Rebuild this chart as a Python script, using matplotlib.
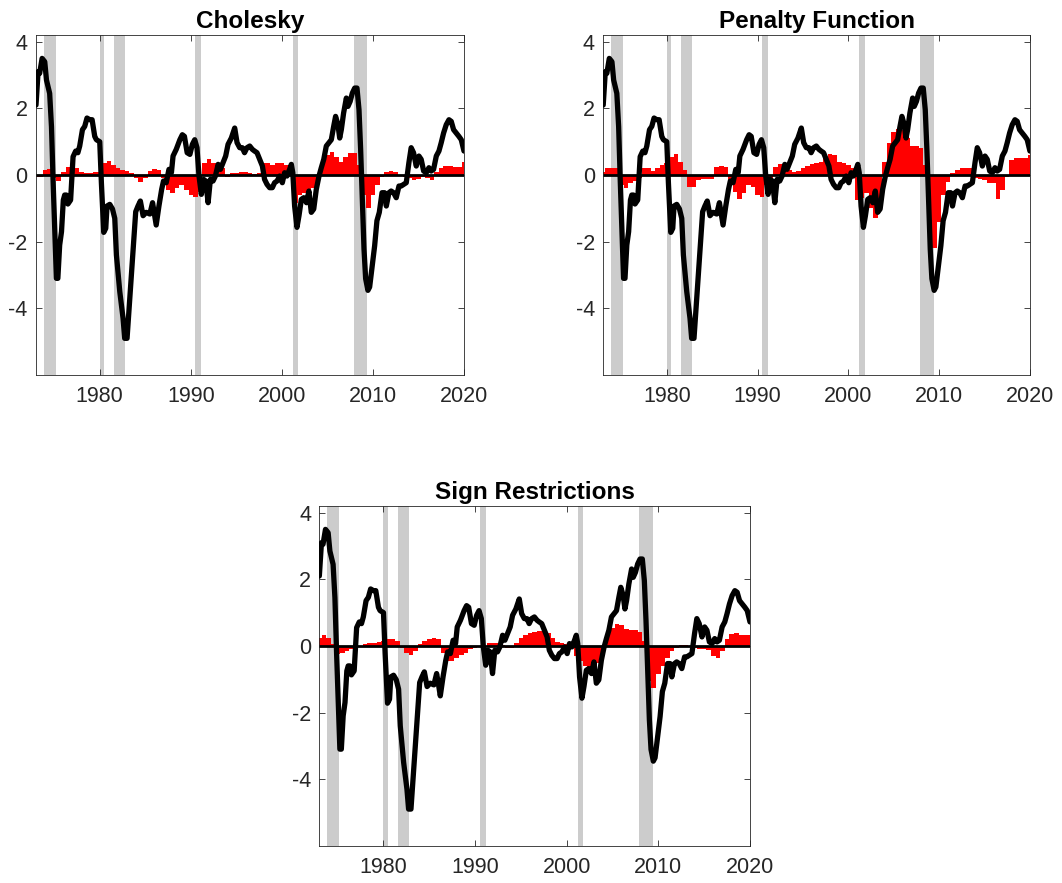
import numpy as np
import matplotlib
matplotlib.use("Agg")
import matplotlib.pyplot as plt

plt.rcParams['font.family'] = ['Liberation Sans', 'DejaVu Sans']
plt.rcParams['axes.unicode_minus'] = False

# common black series
line_years = [1973.0, 1973.23, 1973.4, 1973.67, 1973.96, 1974.15, 1974.5, 1974.7, 1974.88, 1975.06,
              1975.24, 1975.4, 1975.6, 1975.8, 1976.0, 1976.15, 1976.33, 1976.5, 1976.8, 1977.07,
              1977.36, 1977.6, 1977.8, 1978.1, 1978.35, 1978.6, 1978.9, 1979.16, 1979.45, 1979.63,
              1980.0, 1980.18, 1980.44, 1980.66, 1980.8, 1981.1, 1981.4, 1981.65, 1981.83, 1982.2,
              1982.56, 1982.74, 1983.0, 1983.3, 1983.66, 1983.95, 1984.2, 1984.46, 1984.76, 1985.1,
              1985.5, 1985.8, 1986.04, 1986.2, 1986.5, 1986.8, 1987.0, 1987.3, 1987.6, 1987.87,
              1988.05, 1988.4, 1988.8, 1989.07, 1989.3, 1989.6, 1989.9, 1990.17, 1990.43, 1990.68,
              1990.9, 1991.16, 1991.4, 1991.64, 1991.9, 1992.15, 1992.44, 1992.7, 1993.0, 1993.25,
              1993.54, 1993.83, 1994.09, 1994.45, 1994.82, 1995.08, 1995.37, 1995.66, 1995.9, 1996.17,
              1996.47, 1996.76, 1997.0, 1997.27, 1997.56, 1997.86, 1998.1, 1998.37, 1998.66, 1998.95,
              1999.2, 1999.47, 1999.76, 2000.05, 2000.3, 2000.56, 2000.85, 2001.04, 2001.2, 2001.4,
              2001.66, 2001.88, 2002.14, 2002.4, 2002.7, 2002.97, 2003.23, 2003.5, 2003.78, 2004.08,
              2004.33, 2004.6, 2004.88, 2005.17, 2005.43, 2005.69, 2005.9, 2006.16, 2006.35, 2006.53,
              2006.78, 2007.08, 2007.26, 2007.5, 2007.74, 2008.0, 2008.25, 2008.47, 2008.65, 2008.83,
              2009.02, 2009.2, 2009.45, 2009.64, 2009.93, 2010.19, 2010.44, 2010.7, 2011.0, 2011.28,
              2011.47, 2011.76, 2012.0, 2012.27, 2012.56, 2012.86, 2013.1, 2013.37, 2013.66, 2013.95,
              2014.2, 2014.46, 2014.76, 2015.05, 2015.3, 2015.57, 2015.86, 2016.15, 2016.4, 2016.66,
              2016.96, 2017.25, 2017.5, 2017.76, 2018.05, 2018.35, 2018.6, 2018.86, 2019.15, 2019.44,
              2019.7, 2020.0]
line_vals = [2.1, 3.1, 3.05, 3.5, 3.4, 2.85, 2.45, 1.45, -0.2, -1.7,
             -3.1, -3.1, -2.1, -1.7, -0.75, -0.6, -0.6, -0.87, -0.75, 0.55,
             0.72, 0.67, 0.87, 1.36, 1.46, 1.71, 1.66, 1.66, 1.16, 1.06,
             1.0, -0.23, -1.72, -1.6, -0.93, -0.88, -1.02, -1.3, -2.4, -3.5,
             -4.3, -4.9, -4.9, -3.7, -2.3, -1.1, -0.93, -0.78, -1.22, -1.12,
             -1.17, -0.83, -1.22, -1.5, -0.93, -0.43, -0.18, -0.23, 0.17, 0.07,
             0.57, 0.77, 1.06, 1.21, 1.16, 0.67, 0.62, 0.92, 1.06, 0.82,
             -0.03, -0.58, -0.13, -0.18, -0.83, -0.13, -0.18, -0.03, 0.32, 0.17,
             0.37, 0.57, 0.92, 1.11, 1.41, 0.97, 0.82, 0.82, 0.67, 0.82,
             0.87, 0.77, 0.72, 0.67, 0.47, 0.27, -0.13, -0.28, -0.38, -0.38,
             -0.23, -0.18, -0.03, -0.23, 0.07, -0.03, 0.17, 0.32, 0.07, -0.93,
             -1.57, -1.22, -0.73, -0.68, -0.83, -0.48, -1.12, -1.02, -0.43, -0.03,
             0.22, 0.47, 0.87, 0.97, 1.06, 1.46, 1.76, 1.51, 1.11, 1.36,
             1.86, 2.31, 2.06, 2.21, 2.46, 2.61, 2.61, 1.96, 0.77, -0.73,
             -2.22, -3.11, -3.46, -3.36, -2.72, -2.12, -1.37, -1.12, -0.53, -0.53,
             -0.93, -0.53, -0.48, -0.53, -0.68, -0.33, -0.33, -0.28, -0.23, 0.37,
             0.82, 0.67, 0.27, 0.57, 0.47, 0.12, 0.07, 0.22, 0.12, 0.17,
             0.57, 0.72, 0.97, 1.26, 1.51, 1.66, 1.61, 1.36, 1.26, 1.16,
             1.06, 0.72]

# contributions (red bars), half-year steps 1973.0 .. 2020.0
bar_years = np.arange(1973.0, 2020.01, 0.5)
chol = [-0.05, -0.05, 0.15, 0.17, -0.1, -0.18, 0.1, 0.25, 0.27, 0.2,
        0.08, 0.05, 0.05, 0.08, 0.1, 0.35, 0.42, 0.3, 0.2, 0.15,
        0.12, 0.05, -0.1, -0.2, -0.1, 0.12, 0.18, 0.15, -0.1, -0.45,
        -0.55, -0.4, -0.3, -0.45, -0.6, -0.65, -0.5, 0.35, 0.47, 0.35,
        0.3, 0.2, -0.05, 0.05, 0.05, 0.08, 0.08, 0.05, 0.02, 0.05,
        0.35, 0.35, 0.3, 0.35, 0.35, 0.3, 0.1, -0.85, -0.6, -0.55,
        -0.6, -0.4, -0.1, 0.4, 0.6, 0.7, 0.55, 0.4, 0.55, 0.65,
        0.65, 0.3, -0.6, -1.0, -0.6, -0.3, -0.05, 0.1, 0.12, 0.1,
        0.0, -0.05, -0.1, -0.15, -0.12, -0.05, -0.1, -0.15, 0.1, 0.22,
        0.27, 0.27, 0.25, 0.25, 0.4]
penalty = [0.1, 0.2, 0.22, 0.22, -0.3, -0.4, -0.25, -0.18, -0.1, 0.22,
           0.2, 0.12, 0.2, 0.3, 0.35, 0.55, 0.62, 0.4, 0.15, -0.35,
           -0.35, -0.15, -0.12, -0.13, -0.12, 0.25, 0.28, 0.25, -0.3, -0.5,
           -0.72, -0.55, -0.3, -0.35, -0.6, -0.65, -0.3, -0.1, 0.25, 0.32,
           0.3, 0.15, 0.1, 0.12, 0.2, 0.28, 0.32, 0.37, 0.4, 0.5,
           0.62, 0.6, 0.4, 0.35, 0.3, 0.2, -0.75, -0.7, -0.55, -1.0,
           -1.3, -0.7, 0.4, 0.95, 1.3, 1.38, 1.35, 1.1, 0.88, 0.87,
           0.8, 0.3, -1.6, -2.2, -1.4, -0.6, -0.2, 0.05, 0.15, 0.22,
           0.22, 0.2, -0.1, -0.12, -0.15, -0.23, -0.25, -0.72, -0.45, -0.05,
           0.45, 0.5, 0.52, 0.5, 0.6]
sign = [0.25, 0.33, 0.25, 0.05, -0.25, -0.22, -0.15, -0.1, -0.05, 0.0,
        0.05, 0.08, 0.1, 0.12, 0.15, 0.22, 0.22, 0.15, -0.05, -0.2,
        -0.26, -0.15, 0.05, 0.15, 0.22, 0.25, 0.2, -0.2, -0.45, -0.45,
        -0.35, -0.28, -0.2, -0.1, -0.05, -0.03, 0.0, 0.08, 0.1, 0.1,
        0.02, -0.07, -0.05, 0.1, 0.25, 0.33, 0.38, 0.42, 0.44, 0.44,
        0.4, 0.25, 0.12, 0.08, 0.05, 0.02, -0.3, -0.45, -0.6, -0.68,
        -0.65, -0.5, -0.15, 0.4, 0.55, 0.65, 0.63, 0.52, 0.48, 0.48,
        0.42, 0.15, -1.05, -1.25, -0.85, -0.6, -0.35, -0.15, -0.06, 0.02,
        0.02, -0.03, -0.06, -0.08, -0.08, -0.12, -0.3, -0.35, -0.15, 0.2,
        0.35, 0.38, 0.33, 0.32, 0.33]

# recessions
rec_start = [1973.88, 1980.0, 1981.54, 1990.5, 2001.2, 2007.9]
rec_end = [1975.16, 1980.47, 1982.8, 1991.16, 2001.8, 2009.4]

titles = ['Cholesky', 'Penalty Function', 'Sign Restrictions']
panels = [chol, penalty, sign]
positions = [[0.0339, 0.5753, 0.403, 0.385],
             [0.568, 0.5753, 0.4018, 0.385],
             [0.3007, 0.0422, 0.4055, 0.3847]]

fig = plt.figure(figsize=(10.62, 8.83), dpi=100)

for title, vals, pos in zip(titles, panels, positions):
    ax = fig.add_axes(pos)
    for s, e in zip(rec_start, rec_end):
        ax.axvspan(s, e, color='#cccccc', lw=0, zorder=0)
    ax.bar(bar_years, vals, width=0.5, color='red', edgecolor='none', zorder=1)
    ax.axhline(0, color='black', lw=2, zorder=2)
    ax.plot(line_years, line_vals, color='black', lw=3.8,
            solid_joinstyle='round', solid_capstyle='round', zorder=3)
    ax.set_xlim(1973.0, 2020.0)
    ax.set_ylim(-6, 4.2)
    ax.set_xticks([1980, 1990, 2000, 2010, 2020])
    ax.set_yticks([-4, -2, 0, 2, 4])
    ax.tick_params(direction='in', length=4, width=0.6, top=True, right=True,
                   labelsize=15.5, colors='#262626', labelcolor='#262626')
    ax.tick_params(axis='x', pad=8)
    ax.tick_params(axis='y', pad=6)
    for sp in ax.spines.values():
        sp.set_color('#262626')
        sp.set_linewidth(0.6)
    ax.set_title(title, fontsize=17.5, fontweight='bold', pad=5)

fig.savefig('out.png', dpi=100)
